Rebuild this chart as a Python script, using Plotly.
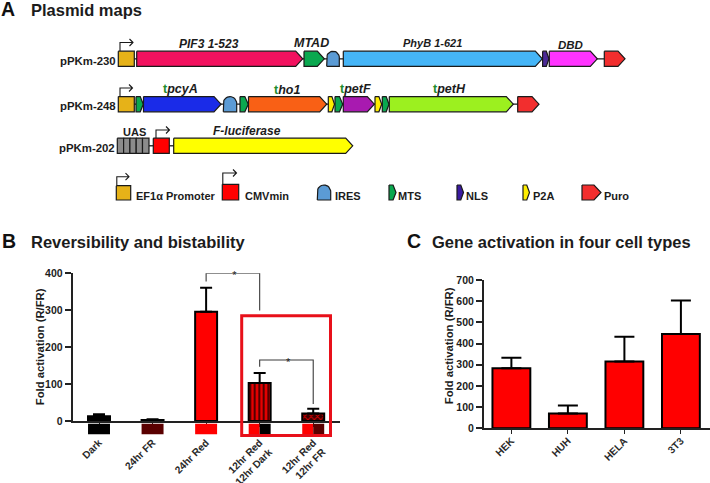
import math
import plotly.graph_objects as go

W, H = 710, 483
FONT = "Liberation Sans"
INK = "#1c1c1c"

# --- Panel B data
b_labels = ["Dark", "24hr FR", "24hr Red", "12hr Red<br>12hr Dark", "12hr Red<br>12hr FR"]
b_values = [13, 2.5, 296, 103, 20]
b_errors = [5, 2, 65, 27, 13]
b_colors = ["#000000", "#5a0000", "#ff0000", "#e80000", "#3a0000"]
b_patterns = ["", "", "", "|", "x"]
b_pattern_fg = ["", "", "", "#3a0000", "#d00000"]
b_yticks = [0, 100, 200, 300, 400]
strip_full_x = [0, 1, 2]
strip_full_colors = ["#000000", "#5a0000", "#ff0000"]
strip_split_x = [3, 4]
strip_split_left = ["#ff0000", "#ff0000"]
strip_split_right = ["#000000", "#5a0000"]

# --- Panel C data
c_labels = ["HEK", "HUH", "HELA", "3T3"]
c_values = [283, 70, 315, 445]
c_errors = [50, 38, 117, 158]
c_yticks = [0, 100, 200, 300, 400, 500, 600, 700]

# --- Panel A: plasmid features (kind, start, end, colour)
row1_y = 58.8
row1 = [("arrow", 136.7, 302.7, "#f2125f"), ("arrow", 304, 324.3, "#0aa84f"), ("dome", 326.7, 339.3, "#5b9bd5"),
        ("arrow", 343.3, 542.3, "#45b5f7"), ("arrow", 542.6, 549, "#4b2a96"), ("arrow", 549.3, 597.3, "#ff33ff"),
        ("arrow", 604.3, 625, "#f22e2e")]
row2_y = 104.2
row2 = [("arrow", 136, 143.3, "#0aa84f"), ("arrow", 143.5, 221, "#1a2be8"), ("dome", 223.3, 236.7, "#5b9bd5"),
        ("arrow", 240, 248.3, "#0aa84f"), ("arrow", 248.5, 326.7, "#f96015"), ("arrow", 328.3, 334.5, "#ffee00"),
        ("arrow", 335, 342.7, "#0aa84f"), ("arrow", 343.3, 374.3, "#a81ab0"), ("arrow", 375, 381.7, "#ffee00"),
        ("arrow", 382.3, 389, "#0aa84f"), ("arrow", 389.3, 513.3, "#9cf01f"), ("arrow", 517.7, 539, "#f22e2e")]
row3_y = 145.8
row3 = [("box", 117.3, 123.6, "#8c8c8c"), ("box", 123.6, 129.9, "#8c8c8c"), ("box", 129.9, 136.2, "#8c8c8c"),
        ("box", 136.2, 142.5, "#8c8c8c"), ("box", 142.5, 149, "#8c8c8c"), ("box", 153.3, 169.3, "#ff0000"),
        ("arrow", 173.7, 352.7, "#ffff00")]
legend_marks = [("box", 116.3, 130.7, "#e6b218", 185.7), ("box", 222.3, 238.7, "#ff0000", 184.3),
                ("dome", 317.3, 330.7, "#5b9bd5", 185), ("arrow", 389, 396, "#0aa84f", 185),
                ("arrow", 457, 463.5, "#3a1aa0", 185), ("arrow", 523, 529.5, "#ffee00", 185),
                ("arrow", 582, 601, "#f22e2e", 185)]

fig = go.Figure()
SX, SY = "x3", "y3"


def draw(kind, x0, x1, y0, y1, color):
    mid = (y0 + y1) / 2
    if kind == "box":
        xs, ys = [x0, x1, x1, x0, x0], [y0, y0, y1, y1, y0]
    elif kind == "arrow":
        head = min(7.0, (x1 - x0) * 0.42)
        xs = [x0, x1 - head, x1, x1 - head, x0, x0]
        ys = [y0, y0, mid, y1, y1, y0]
    else:
        r = (x1 - x0) / 2
        cx = x0 + r
        xs = [x0] + [cx - r * math.cos(math.pi * i / 16) for i in range(17)] + [x1, x0]
        ys = [y1] + [y0 + r - r * math.sin(math.pi * i / 16) for i in range(17)] + [y1, y1]
    fig.add_trace(go.Scatter(x=xs, y=ys, mode="lines", fill="toself", fillcolor=color,
                             line=dict(color="#1a1a1a", width=1.2), xaxis=SX, yaxis=SY,
                             hoverinfo="skip", showlegend=False))


def stroke(xs, ys, color="#1a1a1a", width=1.1):
    fig.add_trace(go.Scatter(x=xs, y=ys, mode="lines", line=dict(color=color, width=width),
                             xaxis=SX, yaxis=SY, hoverinfo="skip", showlegend=False))


def bent_arrow(x0, x1, ybase, ytop):
    stroke([x0, x0, x1, x1 - 3.5, x1, x1 - 3.5], [ybase, ytop, ytop, ytop - 3.5, ytop, ytop + 3.5])


for y, x0, x1 in [(row1_y, 134, 604), (row2_y, 134, 518), (row3_y, 149, 174)]:
    stroke([x0, x1], [y, y], width=1.3)
for y, feats in [(row1_y, row1), (row2_y, row2), (row3_y, row3)]:
    for k, a, b, c in feats:
        draw(k, a, b, y - 7.6, y + 7.6, c)
draw("box", 118.3, 134.3, row1_y - 7.6, row1_y + 7.6, "#e6b218")
draw("box", 118.3, 134.3, row2_y - 7.6, row2_y + 7.6, "#e6b218")
for k, a, b, c, top in legend_marks:
    draw(k, a, b, top, 200, c)
bent_arrow(120, 133, 51, 42.5)
bent_arrow(120, 132.5, 96.5, 88)
bent_arrow(156, 169.5, 138, 130)
bent_arrow(116.8, 129, 185.5, 176.7)
bent_arrow(222.8, 236.5, 184, 173)

# --- Panel B: condition strip under the axis (its own hidden subplot)
fig.add_trace(go.Bar(x=strip_full_x, y=[1] * 3, width=0.41, marker=dict(color=strip_full_colors, line_width=0),
                     xaxis="x4", yaxis="y4", showlegend=False, hoverinfo="skip"))
fig.add_trace(go.Bar(x=strip_split_x, y=[1] * 2, width=0.205, offset=-0.205,
                     marker=dict(color=strip_split_left, line_width=0), xaxis="x4", yaxis="y4",
                     showlegend=False, hoverinfo="skip"))
fig.add_trace(go.Bar(x=strip_split_x, y=[1] * 2, width=0.205, offset=0,
                     marker=dict(color=strip_split_right, line_width=0), xaxis="x4", yaxis="y4",
                     showlegend=False, hoverinfo="skip"))
# --- Panel B bars: one trace per bar so each pattern keeps its own colours
for i in range(5):
    marker = dict(color=b_colors[i], line=dict(color="#000000", width=2))
    if b_patterns[i]:
        marker["pattern"] = dict(shape=b_patterns[i], fgcolor=b_pattern_fg[i], bgcolor=b_colors[i], size=4.5,
                                 solidity=0.4, fillmode="overlay", fgopacity=1)
    fig.add_trace(go.Bar(x=[i], y=[b_values[i]], width=0.41, marker=marker,
                         error_y=dict(type="data", array=[b_errors[i]], arrayminus=[0], symmetric=False,
                                      color="#000000", thickness=2, width=6),
                         xaxis="x", yaxis="y", showlegend=False))
BR = dict(mode="lines", line=dict(color="#3a3a3a", width=1.1), cliponaxis=False, xaxis="x", yaxis="y",
          hoverinfo="skip", showlegend=False)
fig.add_trace(go.Scatter(x=[2, 2, 3, 3], y=[378, 400, 400, 299], **BR))
fig.add_trace(go.Scatter(x=[3, 3, 4, 4], y=[147, 165, 165, 46], **BR))
fig.add_trace(go.Scatter(x=[2.53, 3.53], y=[392, 157], mode="text", text=["*", "*"],
                         textfont=dict(family=FONT, size=11, color="#222222"), cliponaxis=False,
                         xaxis="x", yaxis="y", hoverinfo="skip", showlegend=False))

# --- Panel C
fig.add_trace(go.Bar(x=list(range(4)), y=c_values, width=0.67,
                     marker=dict(color="#ff0000", line=dict(color="#000000", width=2)),
                     error_y=dict(type="data", array=c_errors, arrayminus=[0] * 4, symmetric=False,
                                  color="#000000", thickness=2, width=10),
                     xaxis="x2", yaxis="y2", showlegend=False))


def ax_x(x0, x1):
    return [x0 / W, x1 / W]


def ax_y(ytop, ybot):
    return [(H - ybot) / H, (H - ytop) / H]


tickf = dict(family=FONT, size=10.5, color=INK, weight="bold")
xtickf = dict(family=FONT, size=10.2, color="#2a2a2a", weight="bold")
common_y = dict(showline=True, linecolor="#222222", linewidth=1.5, ticks="outside", ticklen=6, tickwidth=1.5,
                tickcolor="#222222", showgrid=False, zeroline=False, tickfont=tickf)
common_x = dict(showline=True, linecolor="#222222", linewidth=1.5, ticks="outside", ticklen=4, tickwidth=1.2,
                tickcolor="#222222", showgrid=False, zeroline=False, tickfont=xtickf, tickangle=-45)

layout = dict(
    width=W, height=H, autosize=False, margin=dict(l=0, r=0, t=0, b=0, pad=0, autoexpand=False),
    paper_bgcolor="white", plot_bgcolor="rgba(0,0,0,0)", barmode="overlay", showlegend=False,
    xaxis=dict(domain=ax_x(72.5, 340), range=[-0.495, 4.5], tickmode="array", tickvals=list(range(5)), ticktext=b_labels,
               anchor="y", ticklabelstandoff=6, **common_x),
    yaxis=dict(domain=ax_y(273.3, 421), range=[0, 400], tickmode="array", tickvals=b_yticks, anchor="x", **common_y),
    xaxis2=dict(domain=ax_x(483.7, 710), range=[-0.49, 3.515], tickmode="array", tickvals=list(range(4)), ticktext=c_labels,
                anchor="y2", ticklabelstandoff=-3, **common_x),
    yaxis2=dict(domain=ax_y(280, 428.3), range=[0, 700], tickmode="array", tickvals=c_yticks, anchor="x2", **common_y),
    xaxis3=dict(domain=[0, 1], range=[0, W], visible=False, anchor="y3", fixedrange=True),
    yaxis3=dict(domain=[0, 1], range=[H, 0], visible=False, anchor="x3", fixedrange=True),
    xaxis4=dict(domain=ax_x(72.5, 340), range=[-0.495, 4.5], visible=False, anchor="y4", fixedrange=True),
    yaxis4=dict(domain=ax_y(423.5, 434.5), range=[0, 1], visible=False, anchor="x4", fixedrange=True),
    shapes=[dict(type="rect", xref="x3", yref="y3", x0=241.7, x1=330.5, y0=315.7, y1=435.5, layer="above",
                 line=dict(color="#e8101a", width=3), fillcolor="rgba(0,0,0,0)")],
)
fig.update_layout(**layout)


def note(text, x, y, size, anchor="center", color=INK, angle=0):
    fig.add_annotation(text=text, x=x, y=y, xref="x3", yref="y3", xanchor=anchor, yanchor="middle", showarrow=False,
                       borderpad=0, borderwidth=0, textangle=angle,
                       font=dict(family=FONT, size=size, color=color), align="left")


G = '<span style="color:#1e8c2d">t</span>'
note("<b>A</b>", 1, 9, 19.5, "left", "#111111")
note("<b>B</b>", 1.5, 241, 19.5, "left", "#111111")
note("<b>C</b>", 406.5, 241, 19.5, "left", "#111111")
note("<b>Plasmid maps</b>", 31, 9.5, 16.5, "left")
note("<b>Reversibility and bistability</b>", 31, 242, 16.5, "left")
note("<b>Gene activation in four cell types</b>", 432, 242, 16.5, "left")
note("<b>pPKm-230</b>", 116, 61, 11.4, "right")
note("<b>pPKm-248</b>", 116, 106, 11.4, "right")
note("<b>pPKm-202</b>", 115, 148, 11.4, "right")
note("<b><i>PIF3 1-523</i></b>", 208.7, 44, 12)
note("<b><i>MTAD</i></b>", 311.7, 43, 12.5)
note("<b><i>PhyB 1-621</i></b>", 432, 43, 11)
note("<b><i>DBD</i></b>", 570.7, 45, 11.5)
note(f"<b>{G}<i>pcyA</i></b>", 180.7, 89, 12.5)
note(f"<b>{G}<i>ho1</i></b>", 287, 90, 12.5)
note(f"<b>{G}<i>petF</i></b>", 355.3, 89, 12.5)
note(f"<b>{G}<i>petH</i></b>", 449, 89, 12.5)
note("<b>UAS</b>", 134, 132, 11)
note("<b><i>F-luciferase</i></b>", 246.7, 131, 12)
note("<b>EF1\u03b1 Promoter</b>", 136, 195.5, 11, "left")
note("<b>CMVmin</b>", 245, 195.5, 11, "left")
note("<b>IRES</b>", 334.5, 195.5, 11, "left")
note("<b>MTS</b>", 398, 195.5, 11, "left")
note("<b>NLS</b>", 466, 195.5, 11, "left")
note("<b>P2A</b>", 533, 195.5, 11, "left")
note("<b>Puro</b>", 604, 195.5, 11, "left")
note("<b>Fold activation (R/FR)</b>", 39.5, 346.7, 11.3, "center", INK, -90)
note("<b>Fold activation (R/FR)</b>", 448.5, 345.7, 11.3, "center", INK, -90)

fig.write_html("out.html", config=dict(displayModeBar=False),
               post_script="document.body.style.margin='0';document.body.style.overflow='hidden';")
